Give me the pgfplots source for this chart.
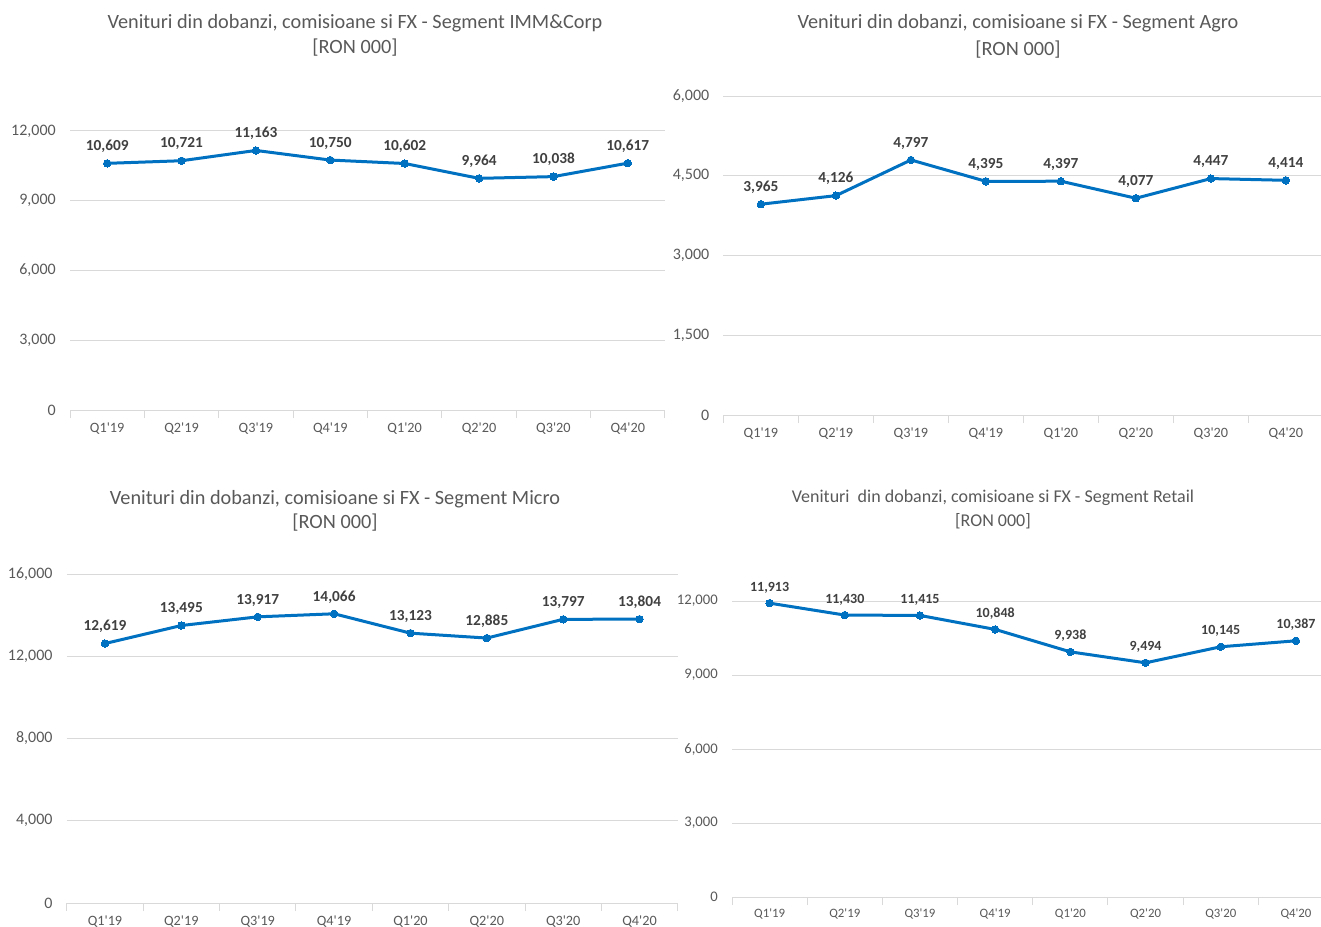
\documentclass[border=0pt]{standalone}
\usepackage{fontspec}
\setmainfont{Carlito}
\usepackage{pgfplots}
\pgfplotsset{compat=1.18}
\definecolor{lineblue}{RGB}{0,112,192}
\definecolor{gridgray}{RGB}{217,217,217}
\definecolor{txtgray}{RGB}{89,89,89}
\definecolor{lblgray}{RGB}{64,64,64}

% one pixel of the reference = 0.75pt
\pgfplotsset{
  seg/.style={
    scale only axis,
    anchor=south west,
    xmin=-0.5, ymin=0,
    xtick={0,...,7},
    xticklabels={Q1\textquotesingle19,Q2\textquotesingle19,Q3\textquotesingle19,Q4\textquotesingle19,
      Q1\textquotesingle20,Q2\textquotesingle20,Q3\textquotesingle20,Q4\textquotesingle20},
    minor xtick={-0.5,0.5,...,7.5},
    major tick length=0pt,
    minor tick length=6pt,
    tick align=outside,
    xtick pos=bottom, ytick pos=left,
    axis x line*=bottom, axis y line*=left,
    x axis line style={-, draw=gridgray, line width=0.75pt},
    y axis line style={draw=none},
    minor x tick style={draw=gridgray, line width=0.75pt},
    ymajorgrids,
    grid style={draw=gridgray, line width=0.75pt},
    scaled ticks=false,
    /pgf/number format/1000 sep={,},
    /pgf/number format/fixed,
    /pgf/number format/assume math mode=true,
    ticklabel style={text=txtgray},
    yticklabel style={anchor=east, inner sep=0pt, xshift=-10.5pt, font=\fontsize{12}{14}\selectfont},
    xticklabel style={anchor=north, inner sep=0pt, yshift=-9.75pt, font=\fontsize{10.7}{12}\selectfont},
    nodes near coords,
    every node near coord/.append style={anchor=south, inner sep=0pt, yshift=8pt,
      text=lblgray, font=\bfseries\fontsize{11.5}{13}\selectfont},
    clip=false,
  },
  segline/.style={lineblue, line width=2.25pt, mark=*, mark size=2.8pt,
    mark options={fill=lineblue, draw=lineblue, line width=0pt}},
}

\begin{document}
\begin{tikzpicture}
\useasboundingbox (0,0) rectangle (990.75pt,-695.25pt);

% titles
\node[align=center, text=txtgray, font=\fontsize{15.2}{18.75}\selectfont]
  at (266.25pt,-26.6pt) {Venituri din dobanzi, comisioane si FX - Segment IMM\&Corp\\{}[RON 000]};
\node[align=center, text=txtgray, font=\fontsize{15.2}{20.25}\selectfont]
  at (763.5pt,-27.4pt) {Venituri din dobanzi, comisioane si FX - Segment Agro\\{}[RON 000]};
\node[align=center, text=txtgray, font=\fontsize{15.2}{18}\selectfont]
  at (251.25pt,-383.25pt) {Venituri din dobanzi, comisioane si FX - Segment Micro\\{}[RON 000]};
\node[align=center, text=txtgray, font=\fontsize{13.5}{18}\selectfont]
  at (744.75pt,-382.25pt) {Venituri\ \ din dobanzi, comisioane si FX - Segment Retail\\{}[RON 000]};

% IMM&Corp
\begin{axis}[seg, at={(52.5pt,-307.5pt)}, width=446.25pt, height=209.25pt,
  xmax=7.5, ymax=12000, ytick={0,3000,...,12000}]
\addplot[segline] coordinates {(0,10609) (1,10721) (2,11163) (3,10750) (4,10602) (5,9964) (6,10038) (7,10617)};
\end{axis}

% Agro
\begin{axis}[seg, at={(542.6pt,-311.25pt)}, width=448.1pt, height=239.25pt,
  xmax=7.467, ymax=6000, ytick={0,1500,...,6000}]
\addplot[segline] coordinates {(0,3965) (1,4126) (2,4797) (3,4395) (4,4397) (5,4077) (6,4447) (7,4414)};
\end{axis}

% Micro
\begin{axis}[seg, at={(50.1pt,-677.25pt)}, width=458.25pt, height=246.75pt,
  xmax=7.5, ymax=16000, ytick={0,4000,...,16000}]
\addplot[segline] coordinates {(0,12619) (1,13495) (2,13917) (3,14066) (4,13123) (5,12885) (6,13797) (7,13804)};
\end{axis}

% Retail
\begin{axis}[seg, at={(549pt,-672.75pt)}, width=441.75pt, height=222pt,
  xmax=7.333, ymax=12000, ytick={0,3000,...,12000},
  yticklabel style={font=\fontsize{11}{13}\selectfont},
  xticklabel style={yshift=1pt, font=\fontsize{9.6}{11}\selectfont},
  every node near coord/.append style={font=\bfseries\fontsize{10.5}{12}\selectfont, yshift=-0.5pt}]
\addplot[segline] coordinates {(0,11913) (1,11430) (2,11415) (3,10848) (4,9938) (5,9494) (6,10145) (7,10387)};
\end{axis}
\end{tikzpicture}
\end{document}
